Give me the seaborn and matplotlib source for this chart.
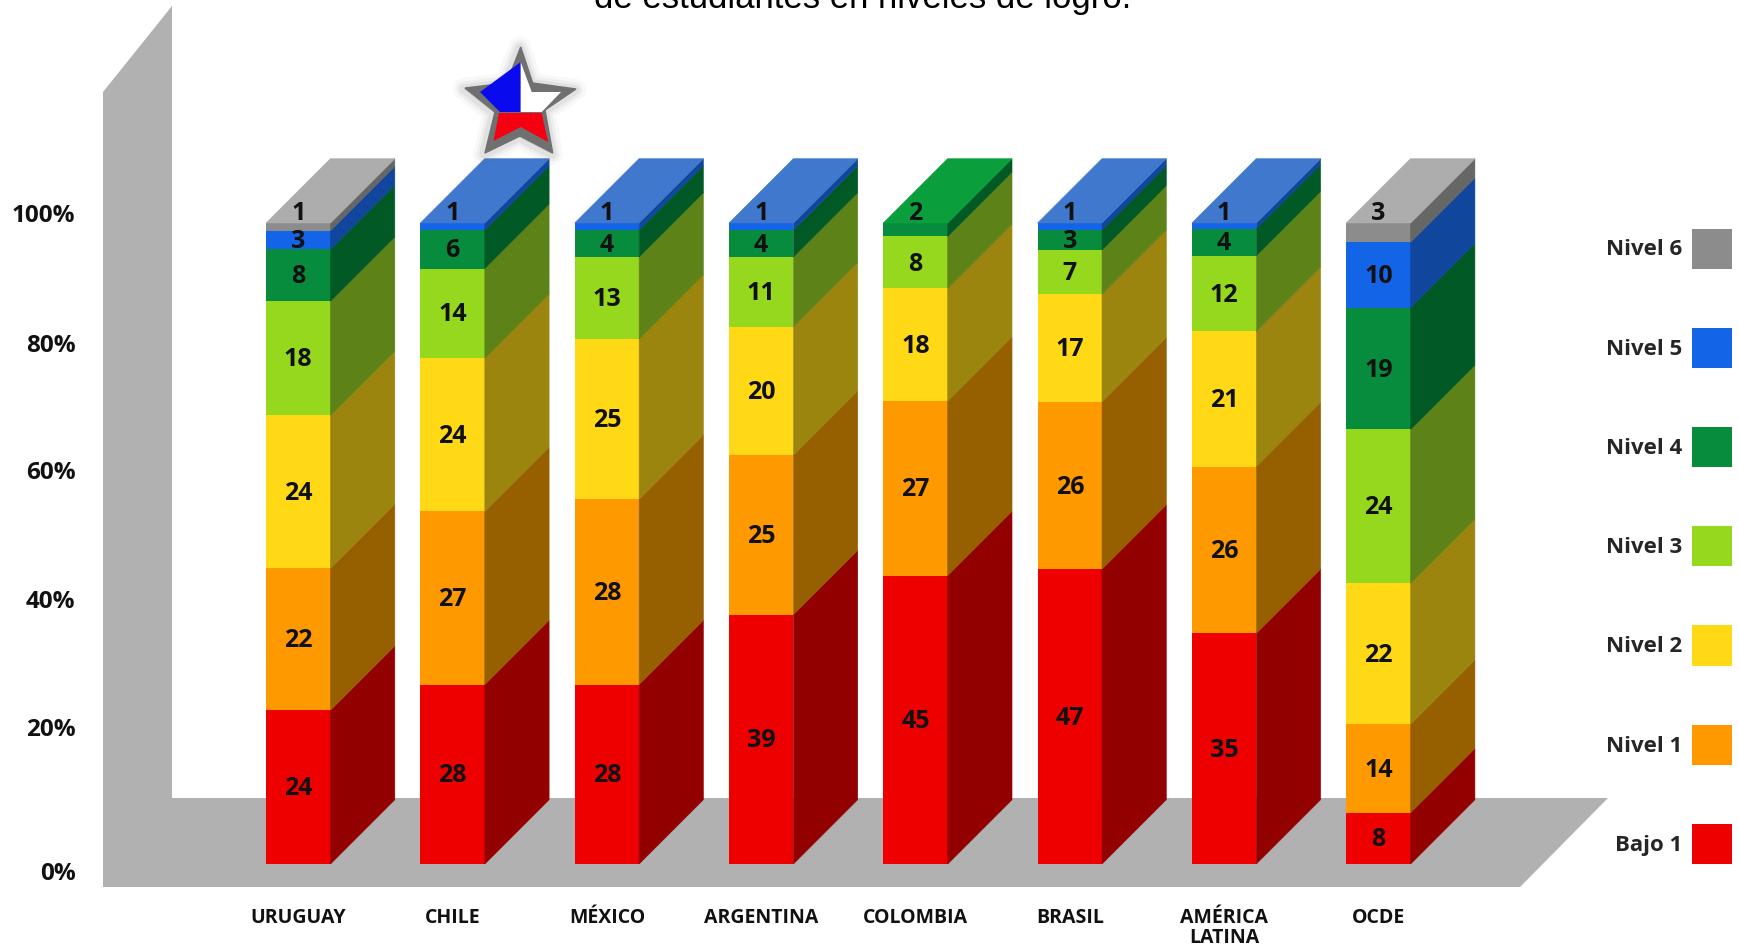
import matplotlib
matplotlib.use("Agg")
import matplotlib.pyplot as plt
from matplotlib.patches import Patch, Polygon
import pandas as pd
import seaborn as sns

W, H = 1739, 947

paises = ["URUGUAY", "CHILE", "MÉXICO", "ARGENTINA", "COLOMBIA", "BRASIL", "AMÉRICA\nLATINA", "OCDE"]
niveles = ["Bajo 1", "Nivel 1", "Nivel 2", "Nivel 3", "Nivel 4", "Nivel 5", "Nivel 6"]

# printed numbers
bajo1 = [24, 28, 28, 39, 45, 47, 35, 8]
nivel1 = [22, 27, 28, 25, 27, 26, 26, 14]
nivel2 = [24, 24, 25, 20, 18, 17, 21, 22]
nivel3 = [18, 14, 13, 11, 8, 7, 12, 24]
nivel4 = [8, 6, 4, 4, 2, 3, 4, 19]
nivel5 = [3, 1, 1, 1, 0, 1, 1, 10]
nivel6 = [1, 0, 0, 0, 0, 0, 0, 3]

# drawn heights (the printed numbers are rounded)
alto_bajo1 = [24, 28, 28, 38.9, 45, 46, 36, 8]
alto_nivel1 = [22.1, 27, 28.9, 24.9, 27.2, 26.1, 26, 13.8]
alto_nivel2 = [23.9, 23.9, 25, 20, 17.6, 16.8, 21.1, 22]
alto_nivel3 = [17.8, 14, 12.8, 10.9, 8.1, 6.9, 11.8, 24]
alto_nivel4 = [8.1, 6, 4.2, 4.2, 2.1, 3.1, 4.2, 19]
alto_nivel5 = [2.9, 1.1, 1.1, 1.1, 0, 1.1, 0.9, 10.2]
alto_nivel6 = [1.2, 0, 0, 0, 0, 0, 0, 3]

etiquetas = [bajo1, nivel1, nivel2, nivel3, nivel4, nivel5, nivel6]
alturas = [alto_bajo1, alto_nivel1, alto_nivel2, alto_nivel3, alto_nivel4, alto_nivel5, alto_nivel6]

frente = ["#EE0000", "#FF9900", "#FFD916", "#96D81E", "#068C3C", "#1464E8", "#8C8C8C"]
lado = ["#930000", "#965F00", "#9C850F", "#5C8218", "#015A26", "#10479C", "#666666"]
techo = {4: "#0A9E3C", 5: "#3F78CC", 6: "#ADADAD"}

df = pd.DataFrame(alturas, index=niveles, columns=paises)
acum = df.cumsum()

# pixel layout
x0_px, paso_px = 298.3, 154.3
y0_px, pct_px = 864.0, 6.41
ancho = 0.4176
dx, dy = 0.4167, 10.03

sns.set_theme(style="white")
plt.rcParams["font.family"] = ["Open Sans", "DejaVu Sans"]

fig = plt.figure(figsize=(W / 100, H / 100), dpi=100)
ax = fig.add_axes([0, 0, 1, 1])


def px(x, y):
    return x / W, 1 - y / H


# grey wall and floor
pared = [(103, 92), (172, 6), (172, 798), (1608, 798), (1520, 887), (103, 887)]
ax.add_patch(Polygon([px(*p) for p in pared], closed=True, color="#B1B1B1", lw=0,
                     transform=ax.transAxes, zorder=0))

# stacked front faces: tallest first, every lower level painted on top
for k in range(len(niveles) - 1, -1, -1):
    sns.barplot(x=paises, y=acum.iloc[k].values, color=frente[k], saturation=1,
                width=ancho, linewidth=0, ax=ax, zorder=2)

ax.set_xlim(-x0_px / paso_px, (W - x0_px) / paso_px)
ax.set_ylim(-(H - y0_px) / pct_px, y0_px / pct_px)
ax.axis("off")

# side and top faces
for i, pais in enumerate(paises):
    xl = i - ancho / 2
    xr = i + ancho / 2
    abajo = 0
    top = 0
    for k in range(len(niveles)):
        arriba = acum.iloc[k, i]
        if df.iloc[k, i] > 0:
            top = k
            ax.add_patch(Polygon([(xr, abajo), (xr + dx, abajo + dy), (xr + dx, arriba + dy), (xr, arriba)],
                                 closed=True, facecolor=lado[k], edgecolor=lado[k], lw=0.4, zorder=2))
            if acum.iloc[k, i] >= acum.iloc[-1, i]:
                y_txt = arriba + 1.5
            else:
                y_txt = (abajo + arriba) / 2 - 0.25
            ax.text(i, y_txt, str(etiquetas[k][i]), ha="center", va="center", fontsize=18,
                    fontweight="bold", color="#111111", zorder=5)
        abajo = arriba
    ax.add_patch(Polygon([(xl, abajo), (xr, abajo), (xr + dx, abajo + dy), (xl + dx, abajo + dy)],
                         closed=True, facecolor=techo[top], edgecolor=techo[top], lw=0.4, zorder=3))

# percent labels sit on their own spacing, not the bars' scale
pct_labels = ["100%", "80%", "60%", "40%", "20%", "0%"]
pct_y = [216, 346, 473, 602, 730, 874]
for t, y in zip(pct_labels, pct_y):
    ax.text(*px(75.5, y), t, transform=ax.transAxes, ha="right", va="center",
            fontsize=17.5, fontweight="bold", color="#111111")

# country names
for i, pais in enumerate(paises):
    ax.text(i, -6.8, pais, ha="center", va="top", fontsize=14, fontweight="bold",
            color="#111111", linespacing=1.0)

# top fragment of title, cut by the image edge as in the source
ax.text(*px(863, 8), "de estudiantes en niveles de logro.", transform=ax.transAxes,
        ha="center", va="baseline", fontsize=25, color="black", family="Liberation Sans")

# star over Chile
star = [(520.7, 47), (532.7, 83), (576, 89), (545, 110), (552.7, 153),
        (520, 136), (485, 153), (495, 112), (465, 88), (506.7, 83)]
for lw, a in [(16, 0.05), (11, 0.07), (7, 0.10)]:
    ax.add_patch(Polygon([px(x - 1, y + 1) for x, y in star], closed=True, facecolor="#777777",
                         edgecolor="#777777", lw=lw, alpha=a, joinstyle="round",
                         transform=ax.transAxes, zorder=6))
ax.add_patch(Polygon([px(*p) for p in star], closed=True, facecolor="#707070", edgecolor="#707070",
                     lw=1, transform=ax.transAxes, zorder=7))
azul = [(520.7, 62), (480, 92), (500, 112), (520.7, 112)]
blanco = [(520.7, 62), (531.7, 92), (561, 92), (541.7, 112), (520.7, 112)]
rojo = [(499, 113), (541.7, 113), (548, 142), (520.7, 127), (493.5, 141)]
for pts, c in [(azul, "#0A0AEE"), (blanco, "white"), (rojo, "#F50010")]:
    ax.add_patch(Polygon([px(*p) for p in pts], closed=True, facecolor=c, lw=0,
                         transform=ax.transAxes, zorder=8))

# legend: Nivel 6 on top, swatch right of text
handles = [Patch(facecolor=frente[k], edgecolor="none", label=niveles[k]) for k in range(len(niveles))][::-1]
ax.legend(handles=handles, loc="lower right", bbox_to_anchor=px(1732, 864), frameon=False,
          markerfirst=False, prop={"family": "Open Sans", "weight": "bold", "size": 16},
          handlelength=1.8, handleheight=2.4, labelspacing=2.66, handletextpad=0.45,
          borderpad=0, borderaxespad=0)

fig.savefig("out.png", dpi=100)
